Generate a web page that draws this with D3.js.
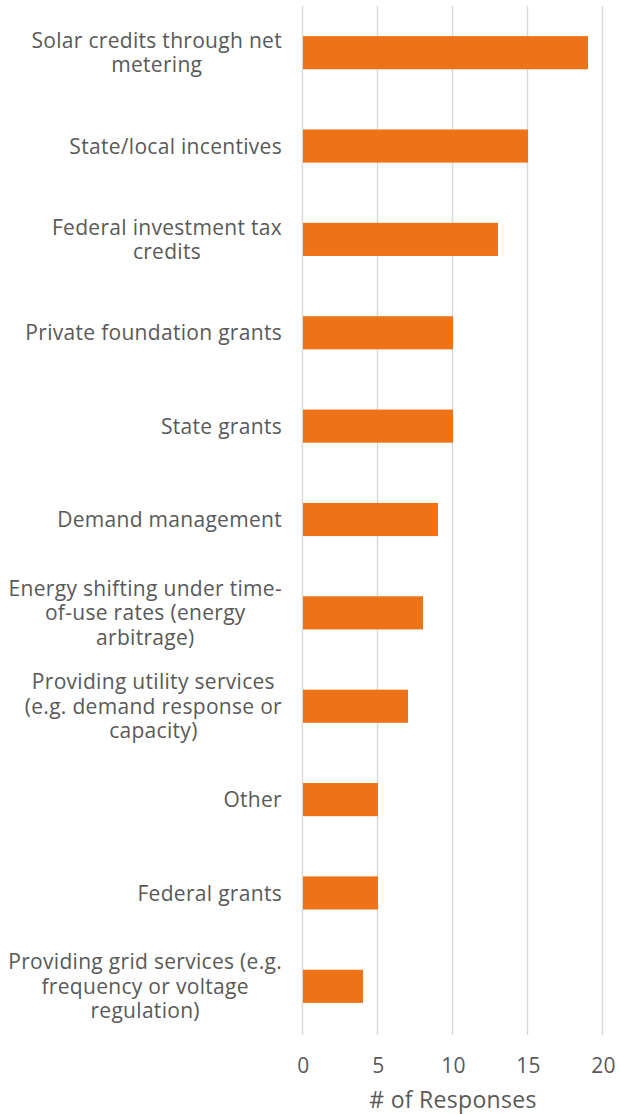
<!DOCTYPE html>
<html>
<head>
<meta charset="utf-8">
<script src="https://cdn.jsdelivr.net/npm/d3@7"></script>
<style>
  html, body { margin: 0; padding: 0; background: #fff; }
  svg { display: block; }
  text { font-family: "Open Sans", "Liberation Sans", Arial, sans-serif; fill: #595959; letter-spacing: 0.3px; }
</style>
</head>
<body>
<svg id="chart" width="619" height="1114"></svg>
<script>
// Funding/revenue sources, top to bottom (line breaks as displayed)
const categories = [
  "Solar credits through net\nmetering",
  "State/local incentives",
  "Federal investment tax\ncredits",
  "Private foundation grants",
  "State grants",
  "Demand management",
  "Energy shifting under time-\nof-use rates (energy\narbitrage)",
  "Providing utility services\n(e.g. demand response or\ncapacity)",
  "Other",
  "Federal grants",
  "Providing grid services (e.g.\nfrequency or voltage\nregulation)"
];
const responses = [19, 15, 13, 10, 10, 9, 8, 7, 5, 5, 4];
const tickValues = [0, 5, 10, 15, 20];
const axisTitle = "# of Responses";

const svg = d3.select("#chart");
const plot = { left: 303, right: 603, top: 6, bottom: 1033 };

const x = d3.scaleLinear().domain([0, 20]).range([plot.left, plot.right]);
const y = d3.scaleBand().domain(categories).range([plot.top, plot.bottom])
  .paddingInner(0.645).paddingOuter(0.3225);

// vertical gridlines
svg.append("g").selectAll("line").data(tickValues).join("line")
  .attr("x1", d => x(d) - 0.5).attr("x2", d => x(d) - 0.5)
  .attr("y1", 6).attr("y2", 1035)
  .attr("stroke", "#d9d9d9").attr("stroke-width", 1.5);

// bars
svg.append("g").selectAll("rect").data(categories).join("rect")
  .attr("x", x(0))
  .attr("y", d => y(d))
  .attr("width", (d, i) => x(responses[i]) - x(0))
  .attr("height", y.bandwidth())
  .attr("fill", "#ed7218");

// category labels: centered block, right-aligned to the axis
const fontSize = 21, lineH = 24.5;
const labels = svg.append("g").selectAll("g").data(categories).join("g");
labels.each(function(d) {
  const g = d3.select(this);
  const lines = d.split("\n");
  const cy = y(d) + y.bandwidth() / 2;
  const t = g.append("text")
    .attr("font-size", fontSize)
    .attr("text-anchor", "middle");
  lines.forEach((ln, k) => {
    t.append("tspan").text(ln)
      .attr("x", 0)
      .attr("y", cy + (k - (lines.length - 1) / 2) * lineH + fontSize * 0.36);
  });
  let maxW = 0;
  t.selectAll("tspan").each(function() { maxW = Math.max(maxW, this.getComputedTextLength()); });
  t.selectAll("tspan").attr("x", 282 - maxW / 2);
});

// x axis tick labels
const axis = d3.axisBottom(x).tickValues(tickValues).tickSize(0).tickPadding(0);
const ax = svg.append("g").attr("transform", `translate(0, 1073)`).call(axis);
ax.select(".domain").remove();
ax.selectAll("text").attr("font-size", 21).attr("fill", "#595959")
  .attr("dy", 0).attr("y", 0)
  .style("font-family", "Open Sans, Liberation Sans, Arial, sans-serif");

// axis title
svg.append("text")
  .attr("x", x(10)).attr("y", 1108)
  .attr("text-anchor", "middle")
  .attr("font-size", 23)
  .text(axisTitle);
</script>
</body>
</html>
